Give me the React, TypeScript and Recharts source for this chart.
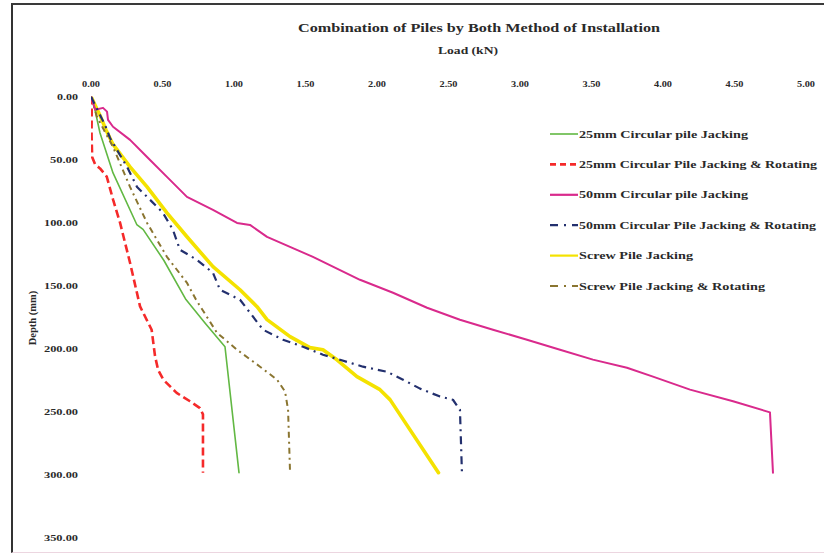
import React from 'react';
import { LineChart, Line, XAxis, YAxis, Legend } from 'recharts';

// Axis ticks
const loadTicks = [0, 0.5, 1, 1.5, 2, 2.5, 3, 3.5, 4, 4.5, 5];
const depthTicks = [0, 50, 100, 150, 200, 250, 300, 350];

// 25mm circular pile, jacking
const circ25JackLoad = [0, 0.028, 0.063, 0.154, 0.32, 0.364, 0.51, 0.664, 0.8, 0.937, 1.035];
const circ25JackDepth = [0, 10.7, 28.9, 60.6, 101.5, 105.3, 130, 161, 180, 198.4, 298.2];

// 25mm circular pile, jacking & rotating
const circ25RotLoad = [0, 0.005, 0.004, 0.008, 0.03, 0.063, 0.11, 0.155, 0.203, 0.273, 0.343, 0.424, 0.448, 0.47, 0.506, 0.599, 0.692, 0.762, 0.783, 0.783];
const circ25RotDepth = [0, 10, 30, 48, 54, 57, 63.5, 82, 100, 131.8, 166.4, 184.9, 206, 217, 224.5, 235, 241.6, 247, 252, 298.2];

// 50mm circular pile, jacking
const circ50JackLoad = [0, 0.03, 0.084, 0.112, 0.119, 0.154, 0.273, 0.392, 0.531, 0.671, 0.853, 1.021, 1.112, 1.231, 1.552, 1.881, 2.112, 2.35, 2.58, 2.811, 3.049, 3.28, 3.51, 3.748, 3.93, 4.189, 4.49, 4.748, 4.769];
const circ50JackDepth = [0, 10.5, 9, 12, 18.5, 24, 34.4, 47.9, 63.7, 79.6, 89.9, 100.2, 101.8, 111.3, 127.1, 145.3, 155.6, 167.5, 177, 184.9, 192.8, 200.7, 208.6, 215, 222.1, 232.4, 241.6, 250.4, 298.2];

// 50mm circular pile, jacking & rotating
const circ50RotLoad = [0, 0.028, 0.063, 0.098, 0.133, 0.182, 0.252, 0.322, 0.413, 0.503, 0.573, 0.622, 0.741, 0.853, 0.902, 1.042, 1.203, 1.343, 1.483, 1.622, 1.741, 1.902, 2.07, 2.182, 2.301, 2.441, 2.531, 2.58, 2.594];
const circ50RotDepth = [0, 6.7, 14.6, 22.6, 32.9, 42.4, 55.8, 71.7, 81.9, 92.2, 105.7, 121.5, 129.5, 139.8, 153.2, 161.1, 184.9, 192.8, 198.4, 204.7, 208.7, 214.2, 218.2, 224.5, 231.6, 237.9, 240.4, 248.3, 298.2];

// Screw pile, jacking
const screwJackLoad = [0, 0.028, 0.063, 0.105, 0.154, 0.273, 0.392, 0.531, 0.671, 0.853, 1.042, 1.161, 1.231, 1.392, 1.531, 1.622, 1.72, 1.86, 2.021, 2.091, 2.43];
const screwJackDepth = [0, 6.7, 15, 26.5, 38, 55.8, 71.7, 92.2, 111.2, 134.9, 153.2, 166.6, 176.9, 190.4, 199.1, 200.7, 208.7, 222.1, 232.4, 240.3, 298.2];

// Screw pile, jacking & rotating
const screwRotLoad = [0, 0.042, 0.154, 0.273, 0.392, 0.531, 0.671, 0.734, 0.881, 1.021, 1.182, 1.301, 1.357, 1.378, 1.392];
const screwRotDepth = [0, 16.2, 40, 71.7, 100.2, 127.1, 147.7, 161, 187.3, 200.7, 214.2, 224.5, 233.9, 248.2, 298.2];

const toPoints = (load: number[], depth: number[]) =>
  load.map((l, i) => ({ load: l, depth: depth[i] }));

type Series = {
  key: string;
  name: string;
  data: { load: number; depth: number }[];
  color: string;
  width: number;
  dash?: string;
  legendDash?: string;
  legendWidth: number;
  textWidth: number;
};

const series: Series[] = [
  { key: 'c25j', name: '25mm Circular pile Jacking', data: toPoints(circ25JackLoad, circ25JackDepth), color: '#62b843', width: 1.6, legendWidth: 1.6, textWidth: 169 },
  { key: 'c25r', name: '25mm Circular Pile Jacking & Rotating', data: toPoints(circ25RotLoad, circ25RotDepth), color: '#f52a2a', width: 2.6, dash: '8 4', legendDash: '6 4', legendWidth: 2.6, textWidth: 238 },
  { key: 'c50j', name: '50mm Circular pile Jacking', data: toPoints(circ50JackLoad, circ50JackDepth), color: '#d92a8c', width: 2, legendWidth: 2.2, textWidth: 169 },
  { key: 'c50r', name: '50mm Circular Pile Jacking & Rotating', data: toPoints(circ50RotLoad, circ50RotDepth), color: '#23306e', width: 2.2, dash: '8 5 2 5', legendDash: '8 6 2 6', legendWidth: 2.2, textWidth: 237 },
  { key: 'sj', name: 'Screw Pile Jacking', data: toPoints(screwJackLoad, screwJackDepth), color: '#f4e200', width: 3.6, legendWidth: 2.2, textWidth: 114 },
  { key: 'sr', name: 'Screw Pile Jacking & Rotating', data: toPoints(screwRotLoad, screwRotDepth), color: '#8a7530', width: 2, dash: '6 4 2 4', legendDash: '8 6 2 6', legendWidth: 2.2, textWidth: 186 },
];

// draw order: the thick yellow line sits underneath the others
const drawOrder = ['sj', 'c25j', 'sr', 'c25r', 'c50j', 'c50r'];

const FONT = '"Liberation Serif", "Times New Roman", serif';
const INK = '#2a2a2a';

const fmt = (v: number) => v.toFixed(2);

const TopTick = (props: any) => {
  const { x, y, payload } = props;
  return (
    <text x={x} y={y} textAnchor="middle" fontFamily={FONT} fontWeight="bold" fontSize={8} fill={INK}
      textLength={18} lengthAdjust="spacingAndGlyphs">
      {fmt(payload.value)}
    </text>
  );
};

const LeftTick = (props: any) => {
  const { x, y, payload } = props;
  const s = fmt(payload.value);
  const len = s.length <= 4 ? 21 : s.length === 5 ? 28 : 34;
  return (
    <text x={x} y={y} dy={3} textAnchor="end" fontFamily={FONT} fontWeight="bold" fontSize={8} fill={INK}
      textLength={len} lengthAdjust="spacingAndGlyphs">
      {s}
    </text>
  );
};

const renderLegend = () => (
  <svg width={279} height={180} style={{ display: 'block' }}>
    {series.map((s, i) => {
      const cy = 14 + i * 30.4;
      return (
        <g key={s.key}>
          <line x1={5} x2={33} y1={cy} y2={cy} stroke={s.color} strokeWidth={s.legendWidth}
            strokeDasharray={s.legendDash} />
          <text x={34} y={cy + 3.5} fontFamily={FONT} fontWeight="bold" fontSize={10} fill={INK}
            textLength={s.textWidth} lengthAdjust="spacingAndGlyphs">
            {s.name}
          </text>
        </g>
      );
    })}
  </svg>
);

export default function App() {
  const ordered = drawOrder.map((k) => series.find((s) => s.key === k)!);
  return (
    <div style={{ position: 'relative', width: 824, height: 554, overflow: 'hidden', background: '#fff' }}>
      <style>{'html,body{margin:0;padding:0;overflow:hidden;background:#fff}'}</style>
      <div
        style={{
          position: 'absolute', left: 11, top: 3, width: 820, height: 547,
          borderLeft: '2px solid #333', borderTop: '2px solid #3a3a3a', borderBottom: '1px solid #ecd6e0',
        }}
      />
      <LineChart
        width={824}
        height={554}
        margin={{ top: 66.5, right: 18, bottom: 16, left: 31 }}
        style={{ position: 'absolute', left: 0, top: 0 }}
      >
        <XAxis
          xAxisId={0}
          type="number"
          dataKey="load"
          orientation="top"
          domain={[0, 5]}
          ticks={loadTicks}
          allowDataOverflow
          axisLine={false}
          tickLine={false}
          tickSize={0}
          tickMargin={10}
          height={30}
          tick={<TopTick />}
        />
        <YAxis
          yAxisId={0}
          type="number"
          domain={[0, 350]}
          ticks={depthTicks}
          reversed
          allowDataOverflow
          axisLine={false}
          tickLine={false}
          tickSize={0}
          tickMargin={13}
          width={60}
          tick={<LeftTick />}
        />
        {ordered.map((s) => (
          <Line
            key={s.key}
            data={s.data}
            dataKey="depth"
            name={s.name}
            type="linear"
            stroke={s.color}
            strokeWidth={s.width}
            strokeDasharray={s.dash}
            strokeLinejoin="round"
            strokeLinecap={s.dash ? 'butt' : 'round'}
            dot={false}
            activeDot={false}
            isAnimationActive={false}
          />
        ))}
        <Legend
          layout="vertical"
          align="center"
          verticalAlign="middle"
          content={renderLegend}
          wrapperStyle={{ position: 'absolute', left: 545, top: 120, width: 279, height: 180 }}
        />
        <text x={479} y={32} textAnchor="middle" fontFamily={FONT} fontWeight="bold" fontSize={12} fill={INK}
          textLength={362} lengthAdjust="spacingAndGlyphs">
          Combination of Piles by Both Method of Installation
        </text>
        <text x={468} y={54} textAnchor="middle" fontFamily={FONT} fontWeight="bold" fontSize={10} fill={INK}
          textLength={60} lengthAdjust="spacingAndGlyphs">
          Load (kN)
        </text>
        <text x={36} y={318} transform="rotate(-90 36 318)" textAnchor="middle" fontFamily={FONT}
          fontWeight="bold" fontSize={10.5} fill={INK}>
          Depth (mm)
        </text>
      </LineChart>
    </div>
  );
}
